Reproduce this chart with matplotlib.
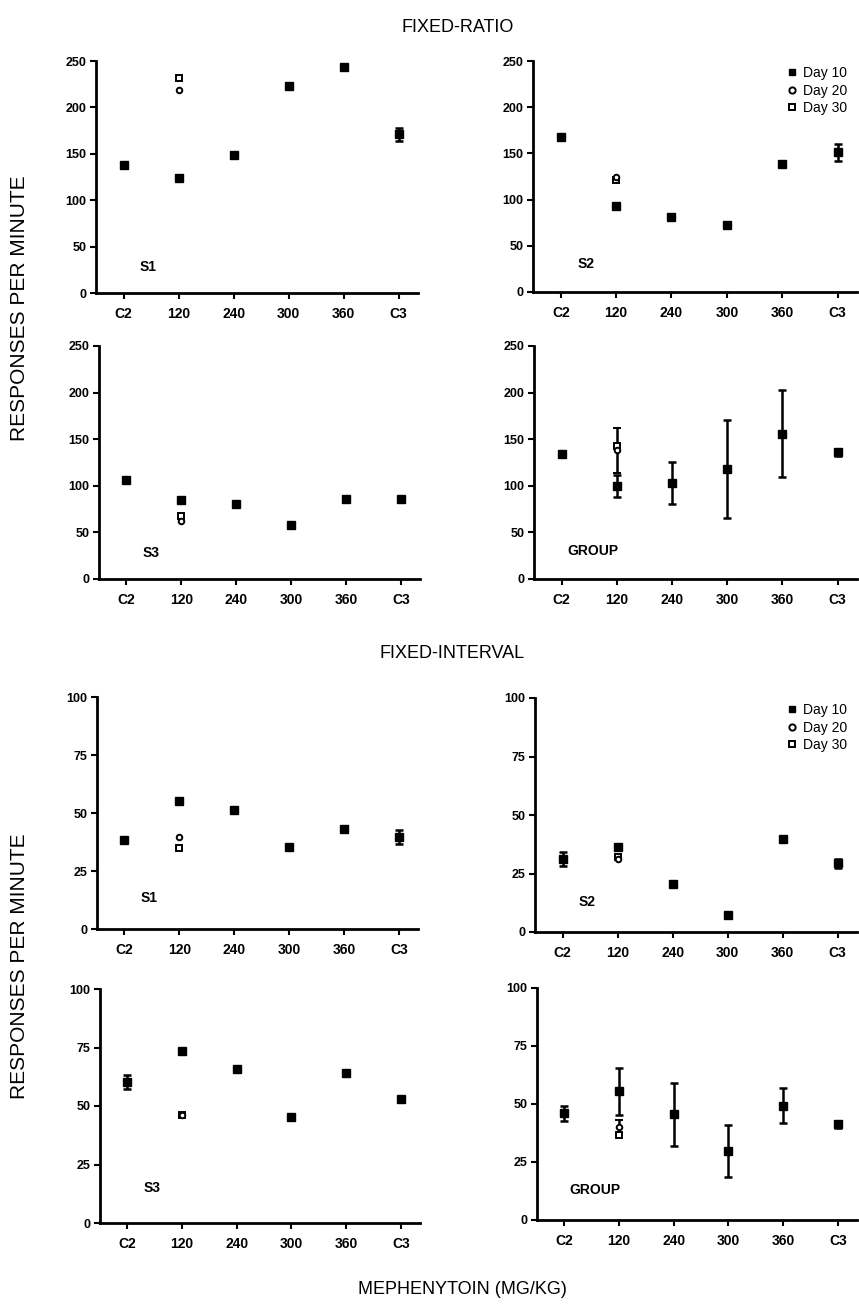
import matplotlib
matplotlib.use("Agg")
import matplotlib.pyplot as plt
from matplotlib.lines import Line2D
import numpy as np

plt.rcParams["font.family"] = ["Liberation Sans", "DejaVu Sans"]

doses = ["C2", "120", "240", "300", "360", "C3"]
xpos = np.arange(len(doses))

# fixed-ratio, day 10 at every dose; day 20 / 30 only at 120 mg/kg
fr_s1_d10 = [138, 124, 149, 223, 243, 171]
fr_s1_d10_err = [0, 0, 0, 0, 0, 7]
fr_s1_d20 = [219]
fr_s1_d30 = [232]

fr_s2_d10 = [168, 93, 81, 73, 138, 151]
fr_s2_d10_err = [3, 0, 0, 0, 0, 9]
fr_s2_d20 = [125]
fr_s2_d30 = [121]

fr_s3_d10 = [106, 85, 81, 58, 86, 86]
fr_s3_d10_err = [0, 0, 0, 0, 0, 0]
fr_s3_d20 = [62]
fr_s3_d30 = [68]

fr_grp_d10 = [134, 100, 103, 118, 156, 136]
fr_grp_d10_err = [3, 12, 23, 53, 47, 4]
fr_grp_d20 = [138]
fr_grp_d20_err = [24]
fr_grp_d30 = [143]

# fixed-interval
fi_s1_d10 = [38.2, 55.3, 51.3, 35.5, 43.1, 39.8]
fi_s1_d10_err = [0, 0, 0, 0, 0, 3]
fi_s1_d20 = [39.5]
fi_s1_d30 = [35.1]

fi_s2_d10 = [31.4, 36.4, 20.3, 7.4, 39.7, 29.3]
fi_s2_d10_err = [3, 0, 0, 0, 0, 2]
fi_s2_d20 = [31.4]
fi_s2_d30 = [32.0]

fi_s3_d10 = [60.1, 73.4, 65.9, 45.1, 63.9, 52.9]
fi_s3_d10_err = [3, 0, 0, 0, 0, 0]
fi_s3_d20 = [46.1]
fi_s3_d30 = [46.1]

fi_grp_d10 = [46.0, 55.4, 45.5, 29.6, 49.2, 41.2]
fi_grp_d10_err = [3.3, 10.3, 13.5, 11.2, 7.6, 1.5]
fi_grp_d20 = [40.0]
fi_grp_d20_err = [3]
fi_grp_d30 = [36.6]

W, H = 859, 1313
fig = plt.figure(figsize=(W / 100, H / 100), dpi=100)


def rect(left, top, bottom, right):
    return [left / W, 1 - bottom / H, (right - left) / W, (bottom - top) / H]


def panel(box, d10, d10_err, d20, d30, ymax, label, d20_err=None, label_x=0.45,
          label_y=28, label_ha="center", legend=False):
    ax = fig.add_axes(box)
    ax.errorbar(xpos, d10, yerr=d10_err, fmt="s", ms=5.8, color="black",
                ecolor="black", elinewidth=1.8, capsize=3, capthick=1.8, zorder=4)
    ax.errorbar([1], d20, yerr=d20_err, fmt="o", ms=4, mfc="white", mec="black",
                mew=1.4, ecolor="black", elinewidth=1.8, capsize=3, capthick=1.8,
                zorder=5)
    ax.plot([1], d30, "s", ms=4, mfc="white", mec="black", mew=1.4, zorder=5)
    ax.set_xlim(-0.5, 5.35)
    ax.set_ylim(0, ymax)
    step = ymax / 5 if ymax == 250 else ymax / 4
    ax.set_yticks(np.arange(0, ymax + 1, step))
    ax.set_xticks(xpos)
    ax.set_xticklabels(doses)
    for s in ["top", "right"]:
        ax.spines[s].set_visible(False)
    for s in ["left", "bottom"]:
        ax.spines[s].set_linewidth(2)
    ax.tick_params(width=1.5, length=4)
    ax.tick_params(axis="y", labelsize=9, pad=3)
    ax.tick_params(axis="x", labelsize=10, pad=6)
    for t in ax.get_xticklabels() + ax.get_yticklabels():
        t.set_fontweight("bold")
    ax.text(label_x, label_y, label, fontsize=10, fontweight="bold",
            ha=label_ha, va="center")
    if legend:
        handles = [
            Line2D([], [], ls="none", marker="s", ms=5, color="black"),
            Line2D([], [], ls="none", marker="o", ms=4.5, mfc="white", mec="black", mew=1.4),
            Line2D([], [], ls="none", marker="s", ms=4.5, mfc="white", mec="black", mew=1.4),
        ]
        ax.legend(handles, ["Day 10", "Day 20", "Day 30"], loc="upper right",
                  bbox_to_anchor=(1.0, 1.02), frameon=False, fontsize=10,
                  handlelength=0.6, handletextpad=0.5, labelspacing=0.25,
                  borderpad=0.2)
    return ax


panel(rect(96, 61, 293, 418), fr_s1_d10, fr_s1_d10_err, fr_s1_d20, fr_s1_d30,
      250, "S1", label_y=28)
panel(rect(533, 61, 292, 857), fr_s2_d10, fr_s2_d10_err, fr_s2_d20, fr_s2_d30,
      250, "S2", label_y=30, legend=True)
panel(rect(99, 346, 579, 420), fr_s3_d10, fr_s3_d10_err, fr_s3_d20, fr_s3_d30,
      250, "S3", label_y=28)
panel(rect(534, 346, 579, 857), fr_grp_d10, fr_grp_d10_err, fr_grp_d20, fr_grp_d30,
      250, "GROUP", d20_err=fr_grp_d20_err, label_x=0.1, label_y=30, label_ha="left")

panel(rect(97, 697, 929, 418), fi_s1_d10, fi_s1_d10_err, fi_s1_d20, fi_s1_d30,
      100, "S1", label_y=13.4)
panel(rect(535, 698, 932, 857), fi_s2_d10, fi_s2_d10_err, fi_s2_d20, fi_s2_d30,
      100, "S2", label_y=13, legend=True)
panel(rect(100, 989, 1223, 420), fi_s3_d10, fi_s3_d10_err, fi_s3_d20, fi_s3_d30,
      100, "S3", label_y=15)
panel(rect(537, 988, 1220, 857), fi_grp_d10, fi_grp_d10_err, fi_grp_d20, fi_grp_d30,
      100, "GROUP", d20_err=fi_grp_d20_err, label_x=0.1, label_y=13, label_ha="left")

fig.text(458 / W, 1 - 28 / H, "FIXED-RATIO", fontsize=13, ha="center", va="center")
fig.text(452 / W, 1 - 654 / H, "FIXED-INTERVAL", fontsize=13, ha="center", va="center")
fig.text(462 / W, 1 - 1290 / H, "MEPHENYTOIN (MG/KG)", fontsize=13, ha="center",
         va="center")
fig.text(20 / W, 1 - 308 / H, "RESPONSES PER MINUTE", fontsize=15, rotation=90,
         ha="center", va="center")
fig.text(20 / W, 1 - 966 / H, "RESPONSES PER MINUTE", fontsize=15, rotation=90,
         ha="center", va="center")

fig.savefig("out.png", dpi=100)
